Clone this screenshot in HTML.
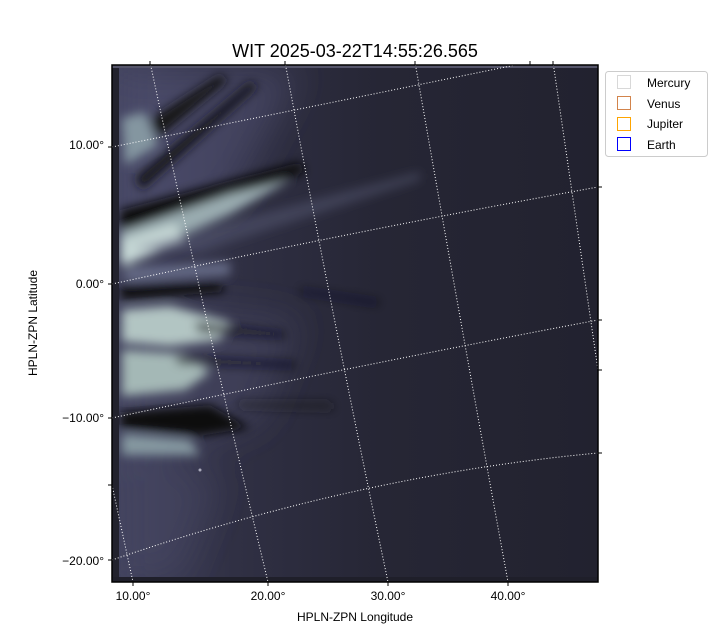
<!DOCTYPE html>
<html><head><meta charset="utf-8"><style>
html,body{margin:0;padding:0;background:#fff;}
svg{display:block;font-family:"Liberation Sans","DejaVu Sans",sans-serif;}
</style></head><body>
<svg width="720" height="640" viewBox="0 0 720 640" xmlns="http://www.w3.org/2000/svg">
<defs>
<filter id="b4" filterUnits="userSpaceOnUse" x="0" y="0" width="720" height="640"><feGaussianBlur stdDeviation="5"/></filter>
<filter id="b10" filterUnits="userSpaceOnUse" x="0" y="0" width="720" height="640"><feGaussianBlur stdDeviation="18"/></filter>
<linearGradient id="bg" x1="112" y1="0" x2="598" y2="0" gradientUnits="userSpaceOnUse">
<stop offset="0" stop-color="#42435e"/>
<stop offset="0.25" stop-color="#303044"/>
<stop offset="0.55" stop-color="#262635"/>
<stop offset="1" stop-color="#22222f"/>
</linearGradient>
<clipPath id="cp"><rect x="112" y="65" width="486" height="517"/></clipPath>
</defs>
<text x="355" y="57" font-size="18" text-anchor="middle" fill="#000">WIT 2025-03-22T14:55:26.565</text>
<g clip-path="url(#cp)">
<rect x="112" y="65" width="486" height="517" fill="url(#bg)"/>
<g filter="url(#b10)">
<polygon points="118,70 300,70 230,200 118,250" fill="#55577a" opacity="0.5"/>
<polygon points="118,300 300,320 260,420 118,470" fill="#4a4b68" opacity="0.5"/>
<polygon points="118,440 220,480 180,580 118,580" fill="#4a4c68" opacity="0.45"/>
</g>
<g filter="url(#b4)">
<polygon points="122,118 145,112 158,145 125,165" fill="#8496a0"/>
<polygon points="150,120 220,75 228,80 158,138" fill="#121219"/>
<polygon points="135,178 250,82 258,86 142,190" fill="#17171f"/>
<polygon points="120,210 300,162 305,172 180,220 120,230" fill="#08080c"/>
<polygon points="120,232 230,194 290,180 230,214 120,262" fill="#9aacb0"/>
<polygon points="122,240 175,224 185,240 122,266" fill="#c6d8d6"/>
<polygon points="130,248 420,172 420,180 200,252" fill="#5a5d7a" opacity="0.45"/>
<polygon points="120,285 220,282 225,292 120,300" fill="#08080c"/>
<polygon points="125,268 230,262 230,275 125,282" fill="#656a86"/>
<polygon points="122,310 170,306 230,322 220,340 170,346 122,342" fill="#b2c5c3"/>
<polygon points="122,350 185,354 210,372 185,390 122,396" fill="#a4b8b6"/>
<polygon points="195,322 285,332 285,338 198,332" fill="#15151d" opacity="0.7"/>
<polygon points="175,356 295,362 295,368 178,364" fill="#15151d" opacity="0.7"/>
<polygon points="120,412 210,405 250,428 200,436 120,428" fill="#08080c"/>
<polygon points="122,434 190,440 200,455 122,455" fill="#8598a0"/>
<polygon points="235,402 330,402 335,410 240,408" fill="#1a1a22" opacity="0.6"/>
<polygon points="300,288 380,300 378,306 300,294" fill="#1a1a22" opacity="0.5"/>
</g>
<circle cx="200" cy="470" r="1.5" fill="#aab"/>
<rect x="112" y="65" width="7" height="517" fill="#22222d"/>
<rect x="112" y="577" width="486" height="5" fill="#1f1f2a"/>
<rect x="112" y="65" width="486" height="3" fill="#55556a"/>
<g stroke="#fff" stroke-width="1" stroke-dasharray="1,2" fill="none">
<path d="M112,147 Q320,105 530,62"/>
<path d="M112,284 Q360,230 598,187"/>
<path d="M112,418 Q360,365 598,320"/>
<path d="M112,560 Q360,475 598,453"/>
<path d="M112,485 L133,582"/>
<path d="M150,62 Q205,320 268,582"/>
<path d="M285,62 Q333,320 388,582"/>
<path d="M415,62 Q460,320 508,582"/>
<path d="M553,62 L598,370"/>
</g>
</g>
<rect x="112" y="65" width="486" height="517" fill="none" stroke="#000" stroke-width="1.5"/>
<g stroke="#000" stroke-width="1">
<line x1="108" y1="147" x2="112" y2="147"/><line x1="108" y1="284" x2="112" y2="284"/>
<line x1="108" y1="418" x2="112" y2="418"/><line x1="108" y1="560" x2="112" y2="560"/>
<line x1="108" y1="485" x2="112" y2="485"/>
<line x1="133" y1="582" x2="133" y2="586"/><line x1="268" y1="582" x2="268" y2="586"/>
<line x1="388" y1="582" x2="388" y2="586"/><line x1="508" y1="582" x2="508" y2="586"/>
<line x1="150" y1="61" x2="150" y2="65"/><line x1="285" y1="61" x2="285" y2="65"/>
<line x1="415" y1="61" x2="415" y2="65"/><line x1="553" y1="61" x2="553" y2="65"/><line x1="530" y1="61" x2="530" y2="65"/>
<line x1="598" y1="187" x2="602" y2="187"/><line x1="598" y1="320" x2="602" y2="320"/>
<line x1="598" y1="453" x2="602" y2="453"/><line x1="598" y1="370" x2="602" y2="370"/>
</g>
<g font-size="12" fill="#000">
<text x="104" y="149" text-anchor="end">10.00°</text>
<text x="104" y="288" text-anchor="end">0.00°</text>
<text x="104" y="422" text-anchor="end">−10.00°</text>
<text x="104" y="565" text-anchor="end">−20.00°</text>
<text x="133" y="600" text-anchor="middle">10.00°</text>
<text x="268" y="600" text-anchor="middle">20.00°</text>
<text x="388" y="600" text-anchor="middle">30.00°</text>
<text x="508" y="600" text-anchor="middle">40.00°</text>
<text x="355" y="621" text-anchor="middle">HPLN-ZPN Longitude</text>
<text x="37" y="323" text-anchor="middle" transform="rotate(-90 37 323)">HPLN-ZPN Latitude</text>
</g>
<rect x="605.5" y="71.5" width="102" height="85" rx="3" fill="#fff" stroke="#ccc"/>
<g stroke-width="1" fill="none">
<rect x="617.5" y="75.5" width="13" height="13" stroke="#d8d8d8"/>
<rect x="617.5" y="96.5" width="13" height="13" stroke="#d2844c"/>
<rect x="617.5" y="117.5" width="13" height="13" stroke="#ffa500"/>
<rect x="617.5" y="137.5" width="13" height="13" stroke="#0000ff"/>
</g>
<g font-size="12" fill="#000">
<text x="647" y="87">Mercury</text>
<text x="647" y="108">Venus</text>
<text x="647" y="128">Jupiter</text>
<text x="647" y="149">Earth</text>
</g>
</svg>
</body></html>
